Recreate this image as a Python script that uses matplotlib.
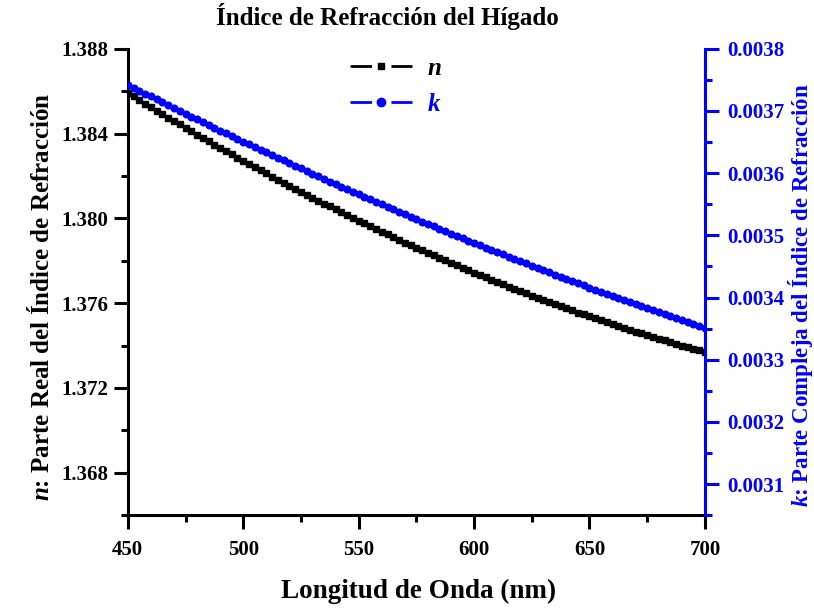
import numpy as np
import matplotlib
matplotlib.use("Agg")
import matplotlib.pyplot as plt
from matplotlib.lines import Line2D
from matplotlib.ticker import MultipleLocator, FormatStrFormatter

plt.rcParams['font.family'] = ['Liberation Serif', 'DejaVu Serif']
plt.rcParams['font.weight'] = 'bold'
plt.rcParams['mathtext.fontset'] = 'custom'
plt.rcParams['mathtext.it'] = 'Liberation Serif:italic:bold'
plt.rcParams['mathtext.rm'] = 'Liberation Serif:bold'
plt.rcParams['lines.scale_dashes'] = False

# longitud de onda (nm)
wl = [450.0, 452.5, 455.0, 457.5, 460.0, 462.5, 465.0, 467.5, 470.0, 472.5,
      475.0, 477.5, 480.0, 482.5, 485.0, 487.5, 490.0, 492.5, 495.0, 497.5,
      500.0, 502.5, 505.0, 507.5, 510.0, 512.5, 515.0, 517.5, 520.0, 522.5,
      525.0, 527.5, 530.0, 532.5, 535.0, 537.5, 540.0, 542.5, 545.0, 547.5,
      550.0, 552.5, 555.0, 557.5, 560.0, 562.5, 565.0, 567.5, 570.0, 572.5,
      575.0, 577.5, 580.0, 582.5, 585.0, 587.5, 590.0, 592.5, 595.0, 597.5,
      600.0, 602.5, 605.0, 607.5, 610.0, 612.5, 615.0, 617.5, 620.0, 622.5,
      625.0, 627.5, 630.0, 632.5, 635.0, 637.5, 640.0, 642.5, 645.0, 647.5,
      650.0, 652.5, 655.0, 657.5, 660.0, 662.5, 665.0, 667.5, 670.0, 672.5,
      675.0, 677.5, 680.0, 682.5, 685.0, 687.5, 690.0, 692.5, 695.0, 697.5,
      700.0]

# parte real n
n_real = [1.38592, 1.38575, 1.38558, 1.38541, 1.38525, 1.38508, 1.38492, 1.38475, 1.38459, 1.38443,
          1.38427, 1.38411, 1.38395, 1.38379, 1.38364, 1.38348, 1.38332, 1.38317, 1.38302, 1.38286,
          1.38271, 1.38256, 1.38241, 1.38227, 1.38212, 1.38197, 1.38183, 1.38168, 1.38154, 1.38139,
          1.38125, 1.38111, 1.38097, 1.38083, 1.38070, 1.38056, 1.38042, 1.38029, 1.38015, 1.38002,
          1.37989, 1.37976, 1.37963, 1.37950, 1.37937, 1.37924, 1.37911, 1.37899, 1.37886, 1.37874,
          1.37862, 1.37850, 1.37837, 1.37825, 1.37814, 1.37802, 1.37790, 1.37778, 1.37767, 1.37755,
          1.37744, 1.37733, 1.37722, 1.37711, 1.37700, 1.37689, 1.37678, 1.37668, 1.37657, 1.37647,
          1.37636, 1.37626, 1.37616, 1.37606, 1.37596, 1.37586, 1.37576, 1.37566, 1.37556, 1.37547,
          1.37538, 1.37528, 1.37519, 1.37510, 1.37501, 1.37492, 1.37483, 1.37474, 1.37466, 1.37457,
          1.37449, 1.37440, 1.37432, 1.37424, 1.37416, 1.37408, 1.37400, 1.37392, 1.37384, 1.37377,
          1.37369]

# parte compleja k
k_imag = [0.0037420, 0.0037373, 0.0037326, 0.0037279, 0.0037232, 0.0037186, 0.0037139, 0.0037093, 0.0037047, 0.0037001,
          0.0036955, 0.0036910, 0.0036864, 0.0036819, 0.0036774, 0.0036729, 0.0036684, 0.0036640, 0.0036595, 0.0036551,
          0.0036507, 0.0036463, 0.0036419, 0.0036375, 0.0036332, 0.0036289, 0.0036246, 0.0036203, 0.0036160, 0.0036117,
          0.0036075, 0.0036032, 0.0035990, 0.0035948, 0.0035907, 0.0035865, 0.0035823, 0.0035782, 0.0035741, 0.0035700,
          0.0035659, 0.0035619, 0.0035578, 0.0035538, 0.0035498, 0.0035458, 0.0035418, 0.0035378, 0.0035339, 0.0035299,
          0.0035260, 0.0035221, 0.0035182, 0.0035143, 0.0035105, 0.0035067, 0.0035028, 0.0034990, 0.0034952, 0.0034915,
          0.0034877, 0.0034840, 0.0034803, 0.0034766, 0.0034729, 0.0034692, 0.0034655, 0.0034619, 0.0034583, 0.0034547,
          0.0034511, 0.0034475, 0.0034440, 0.0034404, 0.0034369, 0.0034334, 0.0034299, 0.0034264, 0.0034230, 0.0034195,
          0.0034161, 0.0034127, 0.0034093, 0.0034059, 0.0034025, 0.0033992, 0.0033959, 0.0033926, 0.0033893, 0.0033860,
          0.0033827, 0.0033795, 0.0033762, 0.0033730, 0.0033698, 0.0033667, 0.0033635, 0.0033603, 0.0033572, 0.0033541,
          0.0033510]

blue = '#0000ff'

fig = plt.figure(figsize=(8.14, 6.09), dpi=100)
ax = fig.add_axes([0.157, 0.154, 0.709, 0.766])
ax2 = ax.twinx()

ax.plot(wl, n_real, color='black', lw=1.0, marker='s', ms=3.8,
        mec='black', mfc='black')
ax2.plot(wl, k_imag, color=blue, lw=1.0, marker='o', ms=4.8,
         mec=blue, mfc=blue)

ax.set_xlim(450, 700)
ax.set_ylim(1.366, 1.388)
ax2.set_ylim(0.00305, 0.0038)

ax.xaxis.set_major_locator(MultipleLocator(50))
ax.xaxis.set_minor_locator(MultipleLocator(25))
ax.yaxis.set_major_locator(MultipleLocator(0.004))
ax.yaxis.set_minor_locator(MultipleLocator(0.002))
ax.yaxis.set_major_formatter(FormatStrFormatter('%.3f'))
ax2.yaxis.set_major_locator(MultipleLocator(0.0001))
ax2.yaxis.set_minor_locator(MultipleLocator(0.00005))
ax2.yaxis.set_major_formatter(FormatStrFormatter('%.4f'))

for a in (ax, ax2):
    a.spines['top'].set_visible(False)
    for s in a.spines.values():
        s.set_linewidth(2.2)
ax.spines['right'].set_visible(False)
ax2.spines['right'].set_color(blue)
ax2.spines['left'].set_visible(False)
ax2.spines['bottom'].set_visible(False)

ax.tick_params(which='major', direction='out', length=10, width=2.2, labelsize=15, pad=4)
ax.tick_params(axis='x', which='major', pad=8)
ax.tick_params(which='minor', direction='out', length=5, width=2.2)
ax2.tick_params(which='major', direction='out', length=10, width=2.2, labelsize=15,
                color=blue, labelcolor=blue, pad=6)
ax2.tick_params(which='minor', direction='out', length=5, width=2.2, color=blue)
for lab in ax.get_xticklabels() + ax.get_yticklabels() + ax2.get_yticklabels():
    lab.set_fontweight('bold')

ax.set_xlabel('Longitud de Onda (nm)', fontsize=19.5, fontweight='bold')
ax.xaxis.set_label_coords(0.504, -0.163)
ax.xaxis.label.set_va('center')

ax.set_ylabel(r'$n$: Parte Real del Índice de Refracción', fontsize=18,
              fontweight='bold')
ax.yaxis.set_label_coords(-0.15, 0.468)
ax.yaxis.label.set_va('center')

ax2.set_ylabel(r'$k$: Parte Compleja del Índice de Refracción', fontsize=16.5,
               fontweight='bold', color=blue, rotation=90)
ax2.yaxis.set_label_coords(1.165, 0.472)
ax2.yaxis.label.set_va('center')

fig.text(387 / 814, 1 - 17 / 609, 'Índice de Refracción del Hígado',
         fontsize=18, fontweight='bold', ha='center', va='center')

# legend entries: line - symbol - line
h_n = Line2D([], [], color='black', lw=2.0, ls=(0, (15.5, 14.0)),
             marker='s', ms=5, mec='black', mfc='black')
h_k = Line2D([], [], color=blue, lw=2.0, ls=(0, (15.5, 14.0)),
             marker='o', ms=6, mec=blue, mfc=blue)
leg = ax.legend([h_n, h_k], [r'$n$', r'$k$'], loc='upper left',
                bbox_to_anchor=(0.385, 0.982), frameon=False, fontsize=18,
                handlelength=2.5, handletextpad=0.6, labelspacing=0.5,
                borderpad=0, borderaxespad=0)
leg.get_texts()[1].set_color(blue)

fig.savefig('out.png', dpi=100)
